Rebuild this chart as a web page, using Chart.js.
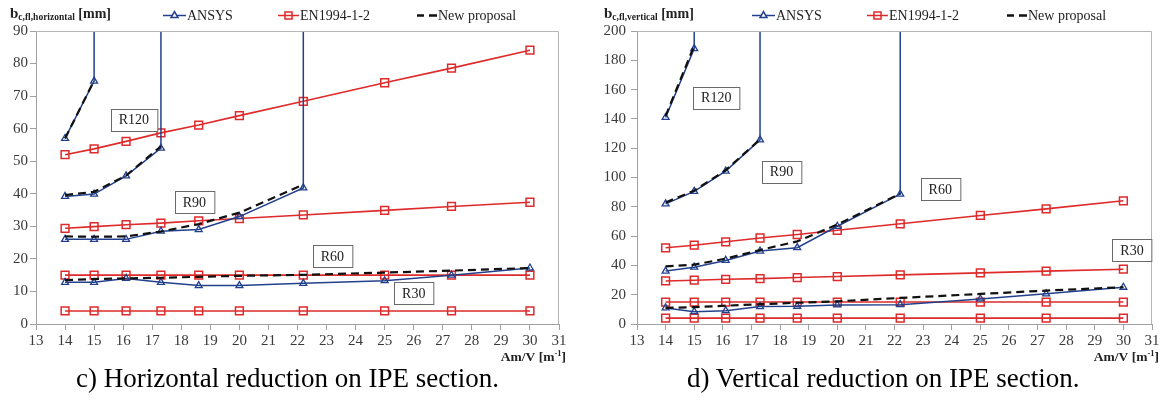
<!DOCTYPE html>
<html>
<head>
<meta charset="utf-8">
<script src="https://cdn.jsdelivr.net/npm/chart.js@4.4.0/dist/chart.umd.min.js"></script>
<style>
  body { margin: 0; background: #fff; width: 1163px; height: 401px; position: relative; overflow: hidden; font-family: 'Liberation Serif', serif; }
  #leftChart { position: absolute; left: 0; top: 0; }
  #rightChart { position: absolute; left: 580px; top: 0; }
  .caption { position: absolute; top: 365px; font-size: 27px; line-height: 27px; color: #000; white-space: nowrap; }
</style>
</head>
<body>
<canvas id="leftChart" width="580" height="366"></canvas>
<canvas id="rightChart" width="583" height="366"></canvas>
<div class="caption" style="left:76px">c) Horizontal reduction on IPE section.</div>
<div class="caption" style="left:687px">d) Vertical reduction on IPE section.</div>
<script>
// Am/V section factors of the IPE profiles [1/m]
const amv = [14, 15, 16.1, 17.3, 18.6, 20, 22.2, 25, 27.3, 30];
const xTicks = [13, 31];

// ANSYS curves that stop early rise vertically off the chart (section fails)
const OFF = 1000;

// EN1994-1-2 (same for both directions)
const enR30  = [4, 4, 4, 4, 4, 4, 4, 4, 4, 4];
const enR60  = [15, 15, 15, 15, 15, 15, 15, 15, 15, 15];
const enR90  = [29.4, 29.9, 30.5, 31, 31.7, 32.4, 33.5, 34.9, 36.1, 37.4];
const enR120 = [52, 53.8, 56.1, 58.7, 61.1, 64, 68.4, 74.1, 78.6, 84.1];

// c) horizontal reduction
const hAnsysR30  = [12.8, 12.8, 14, 12.8, 11.8, 11.8, 12.5, 13.3, 15, 17.2];
const hAnsysR60  = [26, 26, 26, 28.5, 29, 33, 41.8];
const hAnsysR90  = [39.2, 39.9, 45.5, 54];
const hAnsysR120 = [57, 74.6];
const hNewR30  = [13.5, 13.8, 14, 14.2, 14.5, 14.8, 15.1, 15.8, 16.4, 17.2];
const hNewR60  = [26.9, 26.8, 26.9, 28.4, 30.7, 34.2, 42.8];
const hNewR90  = [39.6, 40.6, 45.6, 54.6];
const hNewR120 = [57, 74.8];

// d) vertical reduction
const vAnsysR30  = [11, 8.4, 9.1, 11.9, 12.1, 13, 13.2, 17.1, 20.6, 25.1];
const vAnsysR60  = [36.1, 38.8, 43.4, 49.8, 52.1, 66.7, 88.7];
const vAnsysR90  = [82, 90.5, 104.4, 125.7];
const vAnsysR120 = [141, 188];
const vNewR30  = [11, 11.5, 12.5, 13.5, 14.5, 15.5, 17.8, 20.5, 22.8, 25.1];
const vNewR60  = [39.3, 40.5, 44.6, 50.5, 56.4, 67.9, 89];
const vNewR90  = [83, 91, 105, 126];
const vNewR120 = [142, 190];

const ratings = ['R30', 'R60', 'R90', 'R120'];

const BLUE = '#22408c';
const RED = '#de2a2a';
const TXT = '#222';

function toPoints(vals) {
  return vals.map((v, i) => ({x: amv[i], y: v}));
}

function ansysPoints(vals) {
  const pts = toPoints(vals);
  if (vals.length < amv.length) pts.push({x: amv[vals.length - 1], y: OFF});
  return pts;
}

function buildDatasets(ansys, proposal) {
  const ds = [];
  [enR30, enR60, enR90, enR120].forEach((v, i) => ds.push({
    label: 'EN1994-1-2 ' + ratings[i],
    data: toPoints(v),
    borderColor: RED,
    borderWidth: 1.6,
    pointStyle: 'rect',
    pointRadius: 5.5,
    pointBorderWidth: 1.5,
    pointBorderColor: RED,
    pointBackgroundColor: 'rgba(255,255,255,0)',
    order: 3
  }));
  ansys.forEach((v, i) => ds.push({
    label: 'ANSYS ' + ratings[i],
    data: ansysPoints(v),
    borderColor: BLUE,
    borderWidth: 1.5,
    pointStyle: 'triangle',
    pointRadius: ctx => (ctx.raw && ctx.raw.y >= OFF ? 0 : 4),
    pointBorderWidth: 1.3,
    pointBorderColor: BLUE,
    pointBackgroundColor: 'rgba(255,255,255,0)',
    order: 2
  }));
  proposal.forEach((v, i) => ds.push({
    label: 'New proposal ' + ratings[i],
    data: toPoints(v),
    borderColor: '#111',
    borderWidth: 2.2,
    borderDash: [8, 5],
    pointRadius: 0,
    order: 1
  }));
  return ds;
}

// draws frame, R-boxes, legend and axis titles
const decorations = {
  id: 'decorations',
  afterDatasetsDraw(chart, args, opts) {
    const {ctx, chartArea: a, scales: {x, y}} = chart;
    ctx.save();

    // plot frame (top / right)
    ctx.strokeStyle = '#b5b5b5';
    ctx.lineWidth = 1;
    ctx.beginPath();
    ctx.moveTo(a.left, a.top + 0.5);
    ctx.lineTo(Math.round(a.right) - 0.5, a.top + 0.5);
    ctx.lineTo(Math.round(a.right) - 0.5, a.bottom);
    ctx.stroke();

    // fire rating boxes
    ctx.font = '14px "Liberation Serif"';
    ctx.textAlign = 'center';
    ctx.textBaseline = 'middle';
    opts.boxes.forEach(b => {
      const cx = x.getPixelForValue(b.x), cy = y.getPixelForValue(b.y);
      const w = ctx.measureText(b.text).width + 16, h = 22;
      const l = Math.round(cx - w / 2) + 0.5, t = Math.round(cy - h / 2) + 0.5;
      ctx.fillStyle = '#fff';
      ctx.fillRect(l, t, w, h);
      ctx.strokeStyle = '#6a6a6a';
      ctx.lineWidth = 1;
      ctx.strokeRect(l, t, w, h);
      ctx.fillStyle = TXT;
      ctx.fillText(b.text, cx, cy + 1);
    });

    // legend
    const ly = 15.5;
    const lg = opts.legend;
    ctx.textAlign = 'left';
    ctx.font = '14px "Liberation Serif"';
    // ANSYS
    ctx.strokeStyle = BLUE; ctx.lineWidth = 1.5; ctx.setLineDash([]);
    ctx.beginPath(); ctx.moveTo(lg[0], ly); ctx.lineTo(lg[0] + 23, ly); ctx.stroke();
    ctx.fillStyle = '#fff';
    Chart.helpers.drawPoint(ctx, {pointStyle: 'triangle', radius: 4, borderWidth: 1.3}, lg[0] + 11.5, ly);
    ctx.fillStyle = TXT; ctx.fillText('ANSYS', lg[0] + 24, ly + 1);
    // EN1994-1-2
    ctx.strokeStyle = RED; ctx.lineWidth = 1.5;
    ctx.beginPath(); ctx.moveTo(lg[1], ly); ctx.lineTo(lg[1] + 21, ly); ctx.stroke();
    ctx.fillStyle = 'rgba(255,255,255,0)';
    Chart.helpers.drawPoint(ctx, {pointStyle: 'rect', radius: 5, borderWidth: 1.4}, lg[1] + 10.5, ly);
    ctx.fillStyle = TXT; ctx.fillText('EN1994-1-2', lg[1] + 22, ly + 1);
    // New proposal
    ctx.strokeStyle = '#111'; ctx.lineWidth = 2.4;
    ctx.beginPath();
    ctx.moveTo(lg[2], ly); ctx.lineTo(lg[2] + 7, ly);
    ctx.moveTo(lg[2] + 12, ly); ctx.lineTo(lg[2] + 20, ly);
    ctx.stroke();
    ctx.fillStyle = TXT; ctx.fillText('New proposal', lg[2] + 21, ly + 1);

    // y axis title  b_c,fl,... [mm]
    ctx.textBaseline = 'alphabetic';
    let tx = opts.yTitleX;
    ctx.font = 'bold 15px "Liberation Serif"';
    ctx.fillText('b', tx, 18);
    tx += ctx.measureText('b').width;
    ctx.font = 'bold 9.5px "Liberation Serif"';
    ctx.fillText(opts.yTitleSub, tx, 20);
    tx += ctx.measureText(opts.yTitleSub).width;
    ctx.font = 'bold 14px "Liberation Serif"';
    ctx.fillText(' [mm]', tx, 18);

    // x axis title  Am/V [m-1]
    const main = 'Am/V [m', sup = '-1', end = ']';
    ctx.font = 'bold 13.5px "Liberation Serif"';
    const wMain = ctx.measureText(main).width, wEnd = ctx.measureText(end).width;
    ctx.font = 'bold 8.5px "Liberation Serif"';
    const wSup = ctx.measureText(sup).width;
    let xx = a.right + 7 - wMain - wSup - wEnd;
    ctx.font = 'bold 13.5px "Liberation Serif"';
    ctx.fillText(main, xx, 361);
    ctx.font = 'bold 8.5px "Liberation Serif"';
    ctx.fillText(sup, xx + wMain, 356);
    ctx.font = 'bold 13.5px "Liberation Serif"';
    ctx.fillText(end, xx + wMain + wSup, 361);

    ctx.restore();
  }
};

function makeChart(id, datasets, yMax, yStep, yWidth, yPad, rightPad, deco) {
  return new Chart(document.getElementById(id).getContext('2d'), {
    type: 'line',
    data: {datasets: datasets},
    plugins: [decorations],
    options: {
      responsive: false,
      animation: false,
      devicePixelRatio: 1,
      events: [],
      layout: {padding: {left: 0, right: rightPad, top: 31, bottom: 0}},
      elements: {line: {tension: 0, fill: false}},
      plugins: {
        legend: {display: false},
        tooltip: {enabled: false},
        decorations: deco
      },
      scales: {
        x: {
          type: 'linear',
          min: xTicks[0],
          max: xTicks[1],
          afterFit: s => { s.height = 42; },
          grid: {display: true, drawOnChartArea: false, drawTicks: true, tickLength: 6, color: '#a0a0a0'},
          border: {display: true, color: '#a0a0a0'},
          ticks: {stepSize: 1, autoSkip: false, maxRotation: 0, padding: 2, color: '#3a3a3a', font: {family: 'Liberation Serif', size: 15}}
        },
        y: {
          min: 0,
          max: yMax,
          afterFit: s => { s.width = yWidth; },
          grid: {display: true, drawOnChartArea: false, drawTicks: true, tickLength: 6, color: '#a0a0a0'},
          border: {display: true, color: '#a0a0a0'},
          ticks: {stepSize: yStep, padding: yPad, color: '#3a3a3a', font: {family: 'Liberation Serif', size: 15}}
        }
      }
    }
  });
}

makeChart('leftChart',
  buildDatasets([hAnsysR30, hAnsysR60, hAnsysR90, hAnsysR120], [hNewR30, hNewR60, hNewR90, hNewR120]),
  90, 10, 36, 2, 21,
  {
    legend: [163, 278, 417],
    yTitleX: 10,
    yTitleSub: 'c,fl,horizontal',
    boxes: [
      {text: 'R30', x: 26.0, y: 9.4},
      {text: 'R60', x: 23.2, y: 20.8},
      {text: 'R90', x: 18.45, y: 37.4},
      {text: 'R120', x: 16.37, y: 62.8}
    ]
  });

makeChart('rightChart',
  buildDatasets([vAnsysR30, vAnsysR60, vAnsysR90, vAnsysR120], [vNewR30, vNewR60, vNewR90, vNewR120]),
  200, 20, 57, 5, 11,
  {
    legend: [172, 287, 427],
    yTitleX: 24,
    yTitleSub: 'c,fl,vertical',
    boxes: [
      {text: 'R30', x: 30.3, y: 50.6},
      {text: 'R60', x: 23.6, y: 92},
      {text: 'R90', x: 18.05, y: 104},
      {text: 'R120', x: 15.77, y: 154.5}
    ]
  });
</script>
</body>
</html>
